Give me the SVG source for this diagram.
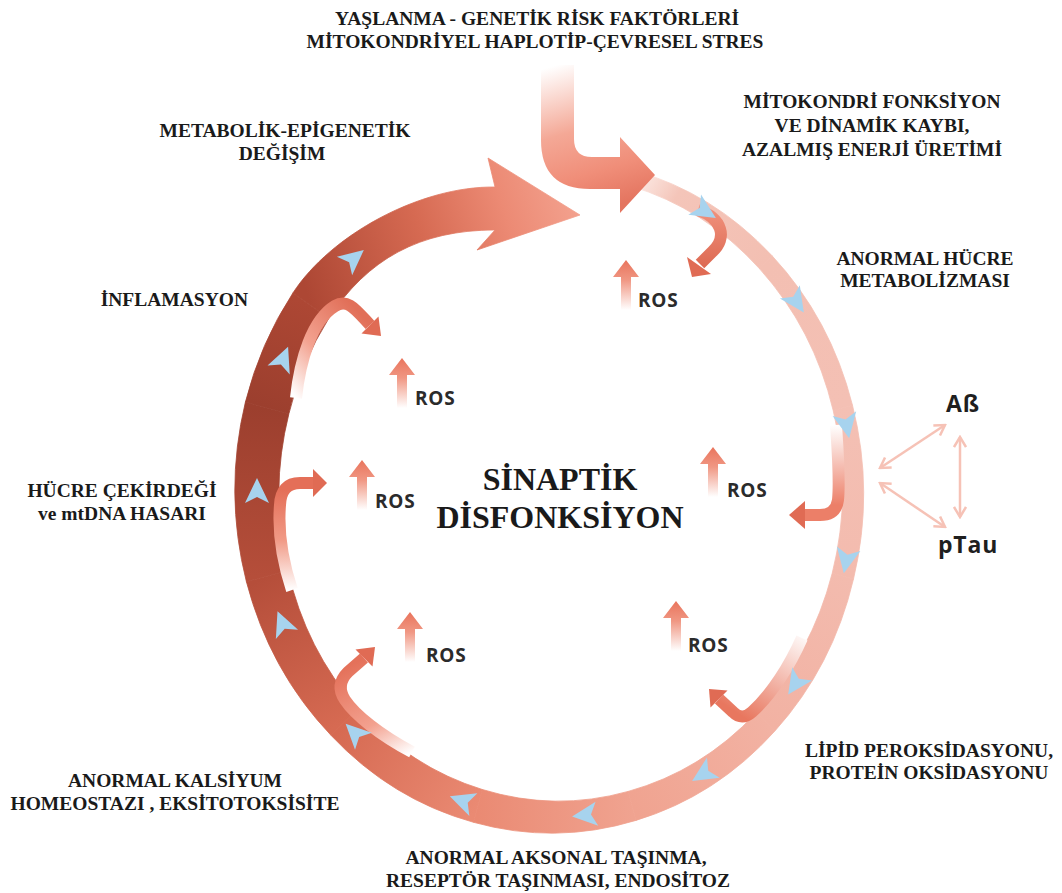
<svg xmlns="http://www.w3.org/2000/svg" width="1062" height="893" viewBox="0 0 1062 893">
<defs>
<style>
.lbl{font-family:"Liberation Serif","Times New Roman",serif;font-weight:bold;font-size:19.5px;fill:#1a1a1a;text-anchor:middle}
.big{font-size:32px}
.ros{font-family:"Open Sans","Liberation Sans",sans-serif;font-weight:700;font-size:19px;letter-spacing:0.8px;fill:#2b2b2b}
.prot{font-family:"Open Sans","Liberation Sans",sans-serif;font-weight:700;font-size:23px;letter-spacing:0.8px;fill:#1f1f1f}
.hook{fill:none;stroke-width:12;stroke-linejoin:round}
.head{fill:#e06b54}
.pair{fill:none;stroke:#f6c2b6;stroke-width:2.5;marker-start:url(#chev);marker-end:url(#chev)}
</style>
<marker id="chev" viewBox="0 0 14 14" refX="12" refY="7" markerWidth="14" markerHeight="14" markerUnits="userSpaceOnUse" orient="auto-start-reverse"><path d="M2,1 L12,7 L2,13" fill="none" stroke="#f6c2b6" stroke-width="2.5"/></marker>
<linearGradient id="g1" gradientUnits="userSpaceOnUse" x1="632.1" y1="178.1" x2="765.7" y2="262.2"><stop offset="0" stop-color="#fdeeea"/><stop offset=".3" stop-color="#f4c5b9"/><stop offset="1" stop-color="#f3bfb2"/></linearGradient>
<linearGradient id="g2" gradientUnits="userSpaceOnUse" x1="765.7" y1="262.2" x2="842.8" y2="407.9"><stop offset="0" stop-color="#f3bfb2"/><stop offset="1" stop-color="#f4c0b4"/></linearGradient>
<linearGradient id="g3" gradientUnits="userSpaceOnUse" x1="842.8" y1="407.9" x2="842.8" y2="576.1"><stop offset="0" stop-color="#f4c0b4"/><stop offset="1" stop-color="#f3bbae"/></linearGradient>
<linearGradient id="g4" gradientUnits="userSpaceOnUse" x1="842.8" y1="576.1" x2="765.7" y2="721.8"><stop offset="0" stop-color="#f3bbae"/><stop offset="1" stop-color="#f2b2a3"/></linearGradient>
<linearGradient id="g5" gradientUnits="userSpaceOnUse" x1="765.7" y1="721.8" x2="632.1" y2="805.9"><stop offset="0" stop-color="#f2b2a3"/><stop offset="1" stop-color="#f0a390"/></linearGradient>
<linearGradient id="g6" gradientUnits="userSpaceOnUse" x1="632.1" y1="805.9" x2="477.9" y2="805.9"><stop offset="0" stop-color="#f0a390"/><stop offset="1" stop-color="#ea8a73"/></linearGradient>
<linearGradient id="g7" gradientUnits="userSpaceOnUse" x1="477.9" y1="805.9" x2="344.3" y2="721.8"><stop offset="0" stop-color="#ea8a73"/><stop offset="1" stop-color="#d66a52"/></linearGradient>
<linearGradient id="g8" gradientUnits="userSpaceOnUse" x1="344.3" y1="721.8" x2="267.1" y2="576.1"><stop offset="0" stop-color="#d66a52"/><stop offset="1" stop-color="#b54e3a"/></linearGradient>
<linearGradient id="g9" gradientUnits="userSpaceOnUse" x1="267.1" y1="576.1" x2="267.2" y2="407.9"><stop offset="0" stop-color="#b54e3a"/><stop offset="1" stop-color="#9c3f2e"/></linearGradient>
<linearGradient id="g10" gradientUnits="userSpaceOnUse" x1="267.2" y1="407.9" x2="311" y2="305.6"><stop offset="0" stop-color="#9c3f2e"/><stop offset="1" stop-color="#ad4734"/></linearGradient>
<linearGradient id="gA" gradientUnits="userSpaceOnUse" x1="311" y1="305.6" x2="580" y2="215"><stop offset="0" stop-color="#ad4734"/><stop offset=".45" stop-color="#d66a52"/><stop offset=".75" stop-color="#ec8a74"/><stop offset="1" stop-color="#f3a18e"/></linearGradient>
<linearGradient id="gL" gradientUnits="userSpaceOnUse" x1="557" y1="65" x2="600" y2="210"><stop offset="0" stop-color="#ffffff"/><stop offset=".45" stop-color="#f4a896"/><stop offset=".75" stop-color="#f08e79"/><stop offset="1" stop-color="#e47560"/></linearGradient>
<linearGradient id="hA" gradientUnits="userSpaceOnUse" x1="700" y1="210" x2="700" y2="270"><stop offset="0" stop-color="#f0917c"/><stop offset="1" stop-color="#dc6750"/></linearGradient>
<linearGradient id="hB" gradientUnits="userSpaceOnUse" x1="296" y1="398" x2="372" y2="326"><stop offset="0" stop-color="#ffffff"/><stop offset=".45" stop-color="#f3a391"/><stop offset="1" stop-color="#e16f58"/></linearGradient>
<linearGradient id="hC" gradientUnits="userSpaceOnUse" x1="290" y1="590" x2="290" y2="490"><stop offset="0" stop-color="#ffffff"/><stop offset=".5" stop-color="#f19a86"/><stop offset="1" stop-color="#e46f58"/></linearGradient>
<linearGradient id="hD" gradientUnits="userSpaceOnUse" x1="412" y1="752" x2="364" y2="658"><stop offset="0" stop-color="#ffffff"/><stop offset=".4" stop-color="#f3a18f"/><stop offset="1" stop-color="#e4715a"/></linearGradient>
<linearGradient id="hE" gradientUnits="userSpaceOnUse" x1="802" y1="630" x2="745" y2="718"><stop offset="0" stop-color="#ffffff"/><stop offset="1" stop-color="#e8775f"/></linearGradient>
<linearGradient id="hF" gradientUnits="userSpaceOnUse" x1="836" y1="425" x2="836" y2="505"><stop offset="0" stop-color="#ffffff"/><stop offset="1" stop-color="#ec7f68"/></linearGradient>
<linearGradient id="rosG" x1="0" y1="0" x2="0" y2="1"><stop offset="0" stop-color="#e9745c"/><stop offset=".4" stop-color="#f09783"/><stop offset="1" stop-color="#ffffff"/></linearGradient>
<path id="rosArrow" d="M0,0 L13,17 L5,17 L5,50 L-5,50 L-5,17 L-13,17 Z" fill="url(#rosG)"/>
<path id="bl" d="M14,0 L-11,-12 L-5,0 L-11,12 Z" fill="#a7d3ee"/>
</defs>
<rect width="1062" height="893" fill="#ffffff"/>

<g id="connectors">
<g id="ring">
<path d="M634.2,170.4 A306.5,333.5 0 0 1 772.1,255.8 L759.4,268.6 A289.5,316.5 0 0 0 630.1,185.8 Z" fill="url(#g1)" stroke="url(#g1)" stroke-width="0.8"/>
<path d="M772.1,255.8 A307.5,334.5 0 0 1 852.5,405.3 L833.2,410.5 A288.5,315.5 0 0 0 759.4,268.6 Z" fill="url(#g2)" stroke="url(#g2)" stroke-width="0.8"/>
<path d="M852.5,405.3 A308.5,335.5 0 0 1 853.5,579 L832.2,573.3 A287.5,314.5 0 0 0 833.2,410.5 Z" fill="url(#g3)" stroke="url(#g3)" stroke-width="0.8"/>
<path d="M853.5,579 A310,337 0 0 1 774.9,731 L756.5,712.6 A286,313 0 0 0 832.2,573.3 Z" fill="url(#g4)" stroke="url(#g4)" stroke-width="0.8"/>
<path d="M774.9,731 A312,339 0 0 1 636,820.4 L628.2,791.4 A284,311 0 0 0 756.5,712.6 Z" fill="url(#g5)" stroke="url(#g5)" stroke-width="0.8"/>
<path d="M636,820.4 A314,341 0 0 1 473.5,822.3 L482.3,789.5 A282,309 0 0 0 628.2,791.4 Z" fill="url(#g6)" stroke="url(#g6)" stroke-width="0.8"/>
<path d="M473.5,822.3 A316,343 0 0 1 330.9,735.2 L357.7,708.4 A280,307 0 0 0 482.3,789.5 Z" fill="url(#g7)" stroke="url(#g7)" stroke-width="0.8"/>
<path d="M330.9,735.2 A318.25,345.25 0 0 1 246.4,581.7 L287.9,570.5 A277.75,304.75 0 0 0 357.7,708.4 Z" fill="url(#g8)" stroke="url(#g8)" stroke-width="0.8"/>
<path d="M246.4,581.7 A320,347 0 0 1 245.4,402.1 L288.9,413.7 A276,303 0 0 0 287.9,570.5 Z" fill="url(#g9)" stroke="url(#g9)" stroke-width="0.8"/>
<path d="M245.4,402.1 A320.25,347.25 0 0 1 292.9,293 L328.9,318.2 A275.75,302.75 0 0 0 288.9,413.7 Z" fill="url(#g10)" stroke="url(#g10)" stroke-width="0.8"/>
<path d="M292.9,293 C330.5,235.1 420,186 495,187 L488,158 L580,215 L477,250 L495,230 C420,230 367.5,258.9 328.9,318.2 Z" fill="url(#gA)" stroke="url(#gA)" stroke-width="0.8"/>
</g>
<path id="input-arrow" d="M541,65 L541,140 Q541,189 590,189 L620,189 L620,213 L655,175 L620,137 L620,157 L592,157 Q574,157 574,139 L574,65 Z" fill="url(#gL)"/>
<g id="hooks">
<path class="hook" stroke="url(#hA)" d="M698,210 C722,218 728,238 712,252 L700,264"/>
<polygon class="head" points="692,277 687,257 711,274"/>
<path class="hook" stroke="url(#hB)" d="M296,398 C300,360 312,320 335,306 C348,298 356,310 370,325"/>
<polygon class="head" points="381,336 378.5,316.5 361.5,333.5"/>
<path class="hook" stroke="url(#hC)" d="M292,590 C282,560 278,530 280,505 Q281,483 300,483 L313,483"/>
<polygon class="head" points="327,483 313,469 313,497"/>
<path class="hook" stroke="url(#hD)" d="M412,752 C380,735 355,715 345,700 Q335,685 348,672 L364,658"/>
<polygon class="head" points="375,647 372.5,666.5 355.5,649.5"/>
<path class="hook" stroke="url(#hE)" d="M802,638 C790,665 772,694 752,712 Q742,721 733,712 L719,699"/>
<polygon class="head" points="709,689 727.5,690.5 710.5,707.5"/>
<path class="hook" stroke="url(#hF)" d="M836,425 C838,455 840,480 838,500 Q836,515 820,515 L805,515"/>
<polygon class="head" points="789,515 805,501 805,529"/>
</g>
<g id="flow-marks">
<use href="#bl" transform="translate(704,210.5) rotate(32)"/>
<use href="#bl" transform="translate(796,301) rotate(56)"/>
<use href="#bl" transform="translate(846.5,424.4) rotate(79)"/>
<use href="#bl" transform="translate(846.5,559.6) rotate(101)"/>
<use href="#bl" transform="translate(796,683) rotate(124)"/>
<use href="#bl" transform="translate(704,773.5) rotate(148)"/>
<use href="#bl" transform="translate(586,815) rotate(173.5)"/>
<use href="#bl" transform="translate(463,801) rotate(199.5)"/>
<use href="#bl" transform="translate(355.6,733.5) rotate(224.5)"/>
<use href="#bl" transform="translate(282.8,624.2) rotate(247.8)"/>
<use href="#bl" transform="translate(257,492) rotate(270)"/>
<use href="#bl" transform="translate(282.8,359.8) rotate(292.2)"/>
<use href="#bl" transform="translate(353,259) rotate(320.5)"/>
</g>
<g id="ab-ptau-links">
<line class="pair" x1="880" y1="468" x2="945" y2="425"/>
<line class="pair" x1="880" y1="483" x2="945" y2="527"/>
<line class="pair" x1="960" y1="437" x2="960" y2="517"/>
</g>
</g>

<g id="ros1"><use href="#rosArrow" x="626" y="260"/><text class="ros" x="638" y="307">ROS</text></g>
<g id="ros2"><use href="#rosArrow" x="402" y="358"/><text class="ros" x="415" y="405">ROS</text></g>
<g id="ros3"><use href="#rosArrow" x="362" y="460"/><text class="ros" x="375" y="508">ROS</text></g>
<g id="ros4"><use href="#rosArrow" x="713" y="447"/><text class="ros" x="727" y="497">ROS</text></g>
<g id="ros5"><use href="#rosArrow" x="410" y="612"/><text class="ros" x="426" y="662">ROS</text></g>
<g id="ros6"><use href="#rosArrow" x="676" y="601"/><text class="ros" x="688" y="652">ROS</text></g>

<g id="ab"><text class="prot" x="946" y="412">Aß</text></g>
<g id="ptau"><text class="prot" x="938" y="553">pTau</text></g>

<g id="top-factors"><text class="lbl" x="537" y="25">YAŞLANMA - GENETİK RİSK FAKTÖRLERİ</text><text class="lbl" x="535" y="48">MİTOKONDRİYEL HAPLOTİP-ÇEVRESEL STRES</text></g>
<g id="mito"><text class="lbl" x="872" y="108">MİTOKONDRİ FONKSİYON</text><text class="lbl" x="872" y="132">VE DİNAMİK KAYBI,</text><text class="lbl" x="872" y="156">AZALMIŞ ENERJİ ÜRETİMİ</text></g>
<g id="metab"><text class="lbl" x="925" y="265">ANORMAL HÜCRE</text><text class="lbl" x="925" y="287">METABOLİZMASI</text></g>
<g id="epigen"><text class="lbl" x="285" y="137">METABOLİK-EPİGENETİK</text><text class="lbl" x="282" y="160">DEĞİŞİM</text></g>
<g id="inflam"><text class="lbl" x="248" y="306" style="text-anchor:end">İNFLAMASYON</text></g>
<g id="dna"><text class="lbl" x="122" y="497">HÜCRE ÇEKİRDEĞİ</text><text class="lbl" x="122" y="520">ve mtDNA HASARI</text></g>
<g id="calcium"><text class="lbl" x="175" y="787">ANORMAL KALSİYUM</text><text class="lbl" x="175" y="810">HOMEOSTAZI , EKSİTOTOKSİSİTE</text></g>
<g id="axonal"><text class="lbl" x="556" y="864">ANORMAL AKSONAL TAŞINMA,</text><text class="lbl" x="558" y="887">RESEPTÖR TAŞINMASI, ENDOSİTOZ</text></g>
<g id="lipid"><text class="lbl" x="929" y="757">LİPİD PEROKSİDASYONU,</text><text class="lbl" x="929" y="779">PROTEİN OKSİDASYONU</text></g>
<g id="center"><text class="lbl big" x="560" y="490">SİNAPTİK</text><text class="lbl big" x="560" y="528">DİSFONKSİYON</text></g>
</svg>
